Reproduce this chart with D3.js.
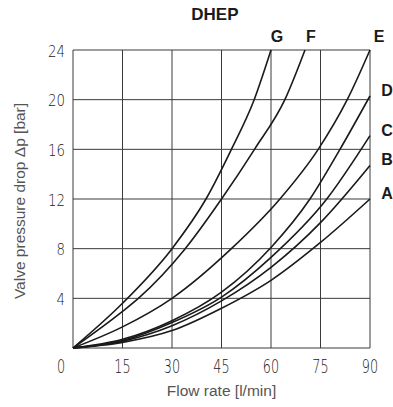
<!DOCTYPE html>
<html lang="en">
<head>
  <meta charset="UTF-8">
  <title>DHEP</title>
  <style>
    body {
      margin: 0;
      padding: 0;
      background: #ffffff;
    }
    svg {
      display: block;
    }
    .grid line {
      stroke: #3a3a3a;
      stroke-width: 1;
    }
    .curve {
      fill: none;
      stroke: #1a1a1a;
      stroke-width: 1.6;
    }
    .tick-y {
      font-family: 'DejaVu Sans', sans-serif;
      font-weight: 200;
      font-size: 16px;
      fill: #1a1a1a;
    }
    .tick-x {
      font-family: 'DejaVu Sans', sans-serif;
      font-weight: 200;
      font-size: 20px;
      fill: #1a1a1a;
    }
    .axis-title {
      font-family: 'Liberation Sans', Arial, sans-serif;
      font-size: 15.5px;
      fill: #555555;
    }
    .curve-label {
      font-family: 'Liberation Sans', Arial, sans-serif;
      font-weight: bold;
      font-size: 16px;
      fill: #1a1a1a;
    }
  </style>
</head>
<body>

<svg width="393" height="407"></svg>

<script src="https://d3js.org/d3.v7.min.js"></script>
<script>
  const width = 393, height = 407;
  const margin = { top: 50, right: 23, bottom: 59, left: 73 };

  // chart data
  const title = "DHEP";
  const xTicks = [0, 15, 30, 45, 60, 75, 90];
  const yTicks = [0, 4, 8, 12, 16, 20, 24];
  const xLabel = "Flow rate [l/min]";
  const yLabel = "Valve pressure drop Δp [bar]";

  // [flow l/min, pressure drop bar]
  const curveG = [[0, 0], [15, 3.6], [30, 8], [40.3, 12], [48, 16], [54.9, 20], [60, 24]];
  const curveF = [[0, 0], [15, 2.95], [19.8, 4], [34, 8], [45, 12], [55, 16], [64.2, 20], [70.3, 24]];
  const curveE = [[0, 0], [15, 1.7], [30, 4], [48, 8], [62.7, 12], [74.3, 16], [83.1, 20], [90, 24]];
  const curveD = [[0, 0], [15, 0.7], [30, 2.2], [45, 4.5], [60, 8.1], [71.8, 12], [80.9, 16], [90, 20.3]];
  const curveC = [[0, 0], [15, 0.6], [30, 2.05], [45, 4.1], [60, 7.3], [76.9, 12], [90, 17.1]];
  const curveB = [[0, 0], [15, 0.55], [30, 1.8], [45, 3.8], [60, 6.5], [75, 10.1], [90, 14.7]];
  const curveA = [[0, 0], [15, 0.45], [30, 1.4], [45, 3.2], [60, 5.45], [75, 8.5], [90, 12]];

  const curveNames = ["G", "F", "E", "D", "C", "B", "A"];
  const curveData = [curveG, curveF, curveE, curveD, curveC, curveB, curveA];

  const svg = d3.select("svg");

  const x = d3.scaleLinear().domain([0, 90]).range([margin.left, width - margin.right]);
  const y = d3.scaleLinear().domain([0, 24]).range([height - margin.bottom, margin.top]);

  // grid
  const grid = svg.append("g").attr("class", "grid");
  grid.selectAll(".vx")
    .data(xTicks)
    .enter()
    .append("line")
    .attr("x1", d => x(d)).attr("x2", d => x(d))
    .attr("y1", y(0)).attr("y2", y(24));
  grid.selectAll(".hy")
    .data(yTicks)
    .enter()
    .append("line")
    .attr("x1", x(0)).attr("x2", x(90))
    .attr("y1", d => y(d)).attr("y2", d => y(d));

  // curves
  const line = d3.line()
    .x(d => x(d[0]))
    .y(d => y(d[1]))
    .curve(d3.curveMonotoneX);

  svg.selectAll(".curve")
    .data(curveData)
    .enter()
    .append("path")
    .attr("class", "curve")
    .attr("d", line);

  // curve labels at the end of each curve
  svg.selectAll(".curve-label")
    .data(curveData)
    .enter()
    .append("text")
    .attr("class", "curve-label")
    .attr("text-anchor", "middle")
    .attr("x", d => {
      const last = d[d.length - 1];
      return last[1] >= 24 ? Math.min(x(last[0]) + 6, x(90)) + (last[0] >= 90 ? 9 : 0) : x(90) + 17;
    })
    .attr("y", d => {
      const last = d[d.length - 1];
      return last[1] >= 24 ? y(24) - 8 : y(last[1]);
    })
    .text((d, i) => curveNames[i]);

  // tick labels (narrow light digits, squeezed horizontally)
  svg.selectAll(".tick-y")
    .data(yTicks.filter(d => d > 0))
    .enter()
    .append("text")
    .attr("class", "tick-y")
    .attr("text-anchor", "end")
    .attr("transform", d => `translate(${x(0) - 8},${y(d) + 1}) scale(0.84,1)`)
    .attr("dy", "0.36em")
    .text(d => d);

  svg.selectAll(".tick-x")
    .data(xTicks)
    .enter()
    .append("text")
    .attr("class", "tick-x")
    .attr("text-anchor", "middle")
    .attr("transform", d => `translate(${d === 0 ? x(d) - 12 : x(d)},${y(0) + 25}) scale(0.64,1)`)
    .text(d => d);

  // titles
  svg.append("text")
    .attr("class", "curve-label")
    .attr("text-anchor", "middle")
    .attr("x", x(43))
    .attr("y", 20)
    .style("font-size", "17px")
    .text(title);

  svg.append("text")
    .attr("class", "axis-title")
    .attr("text-anchor", "middle")
    .attr("x", x(45))
    .attr("y", 396)
    .text(xLabel);

  svg.append("text")
    .attr("class", "axis-title")
    .attr("text-anchor", "middle")
    .attr("transform", "translate(25, 201) rotate(-90)")
    .text(yLabel);
</script>

</body>
</html>
